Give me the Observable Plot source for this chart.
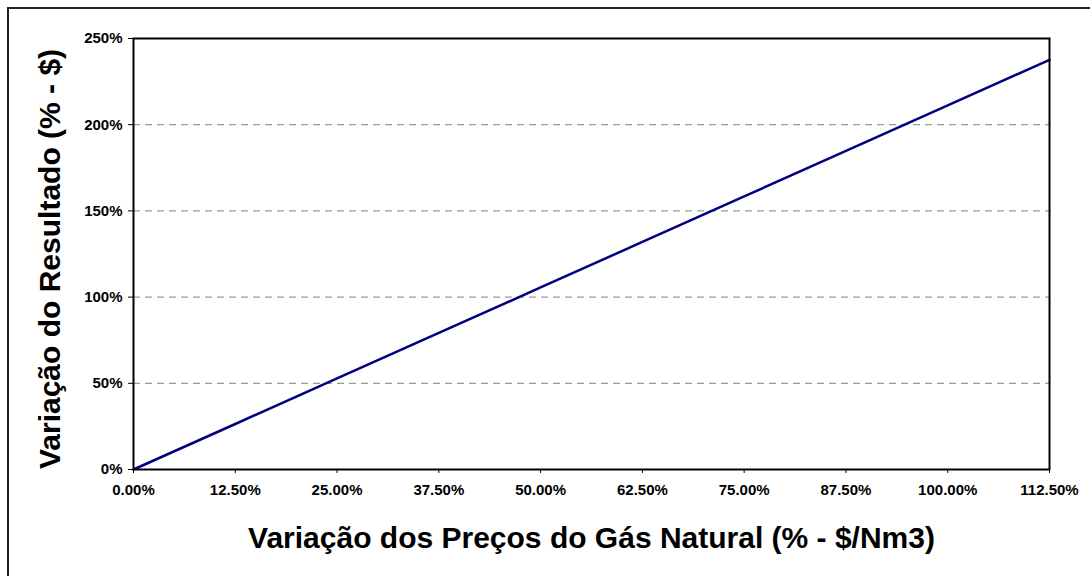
<!DOCTYPE html>
<html>
<head>
<meta charset="utf-8">
<script src="https://cdn.jsdelivr.net/npm/d3@7"></script>
<script src="https://cdn.jsdelivr.net/npm/@observablehq/plot@0.6"></script>
<style>
  body { margin: 0; background: #fff; }
  #wrap { position: relative; width: 1090px; height: 576px; overflow: hidden; background: #fff; }
  #border { position: absolute; left: 7px; top: 7px; width: 2000px; height: 2000px;
            border-left: 2px solid #222; border-top: 2px solid #222; }
  #wrap svg { position: absolute; left: 0; top: 0; }
</style>
</head>
<body>
<div id="wrap"><div id="border"></div></div>
<script>
// Price variation of natural gas (%)
const xValues = [0, 12.5, 25, 37.5, 50, 62.5, 75, 87.5, 100, 112.5];
// Result variation (%)
const yValues = [0, 26.4, 52.8, 79.2, 105.6, 132, 158.4, 184.8, 211.2, 237.6];
const xTicks = [0, 12.5, 25, 37.5, 50, 62.5, 75, 87.5, 100, 112.5];
const yTicks = [0, 50, 100, 150, 200, 250];
const gridValues = [50, 100, 150, 200];
const xTitle = "Variação dos Preços do Gás Natural (% - $/Nm3)";
const yTitle = "Variação do Resultado (% - $)";

const data = xValues.map((x, i) => ({x, y: yValues[i]}));

const chart = Plot.plot({
  width: 1090,
  height: 576,
  marginLeft: 133,
  marginRight: 41,
  marginTop: 38,
  marginBottom: 107,
  style: {fontFamily: "'Liberation Sans', Arial, sans-serif", background: "transparent", color: "#000"},
  x: {domain: [0, 112.5]},
  y: {domain: [0, 250]},
  marks: [
    Plot.gridY(gridValues, {stroke: "#808080", strokeOpacity: 1, strokeWidth: 1, strokeDasharray: "7,5"}),
    Plot.axisX(xTicks, {tickSize: 4, tickPadding: 11, tickFormat: d => d.toFixed(2) + "%",
      fontSize: 15, fontWeight: "bold", label: null, stroke: "#000", strokeWidth: 1}),
    Plot.axisY(yTicks, {tickSize: 5, tickPadding: 6, tickFormat: d => d + "%",
      fontSize: 15, fontWeight: "bold", label: null, stroke: "#000", strokeWidth: 1}),
    Plot.line(data, {x: "x", y: "y", stroke: "#000080", strokeWidth: 2.5}),
    Plot.frame({stroke: "#000", strokeWidth: 2}),
    Plot.text([xTitle], {text: d => d, frameAnchor: "bottom", dy: 69, lineAnchor: "middle",
      textAnchor: "middle", fontSize: 30, fontWeight: "bold", fill: "#000"}),
    Plot.text([yTitle], {text: d => d, frameAnchor: "left", rotate: -90, dx: -83, dy: 5,
      lineAnchor: "middle", textAnchor: "middle", fontSize: 30, fontWeight: "bold", fill: "#000"})
  ]
});
document.getElementById("wrap").appendChild(chart);
</script>
</body>
</html>
